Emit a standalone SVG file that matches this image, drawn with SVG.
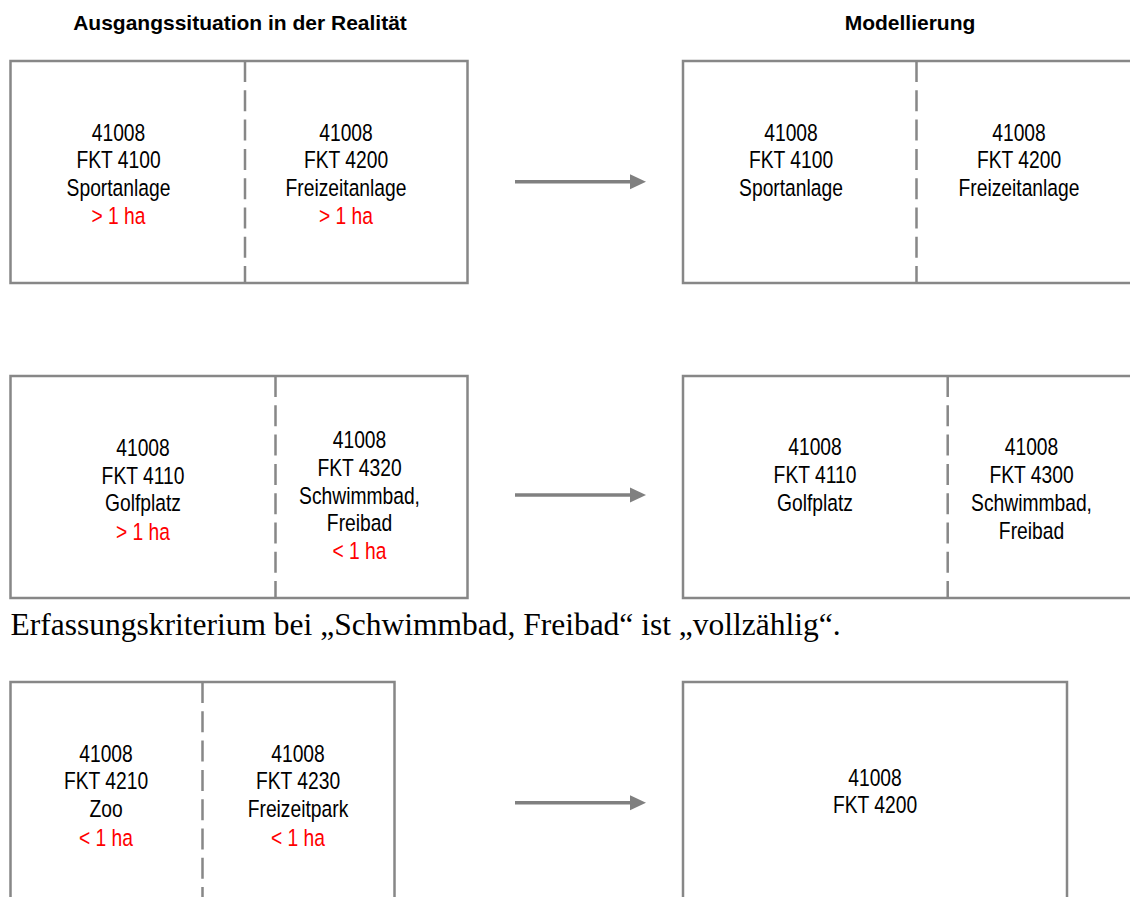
<svg xmlns="http://www.w3.org/2000/svg" width="1130" height="897" viewBox="0 0 1130 897">
  <defs>
    <style>
      .box { fill: #ffffff; stroke: #878787; stroke-width: 2.5; }
      .div { stroke: #878787; stroke-width: 2.5; stroke-dasharray: 21 8.3; fill: none; }
      .lbl { font-family: "Liberation Sans", Arial, sans-serif; font-size: 23.5px; text-anchor: middle; fill: #000000; }
      .red { fill: #ff0000; }
      .head { font-family: "Liberation Sans", Arial, sans-serif; font-weight: bold; font-size: 21px; text-anchor: middle; fill: #000000; }
      .note { font-family: "Liberation Serif", "Times New Roman", serif; font-size: 31.5px; fill: #000000; }
      .conn { stroke: #808080; stroke-width: 3.5; fill: none; }
      .tip { fill: #808080; }
    </style>
  </defs>
  <rect width="1130" height="897" fill="#ffffff"/>

  <!-- column headings -->
  <text class="head" x="240" y="30">Ausgangssituation in der Realität</text>
  <text class="head" x="910" y="30">Modellierung</text>

  <!-- labels use a narrowed sans face: each cell is centred at its x and squeezed horizontally -->

  <!-- row 1: real situation -->
  <g id="real-1">
    <rect class="box" x="10.5" y="61" width="457" height="222"/>
    <line class="div" x1="245" y1="61" x2="245" y2="283"/>
    <g id="real-1-sport" transform="translate(118.5 0) scale(0.82 1)">
      <text class="lbl" x="0" y="140.7">41008</text>
      <text class="lbl" x="0" y="168.5">FKT 4100</text>
      <text class="lbl" x="0" y="196.3">Sportanlage</text>
      <text class="lbl red" x="0" y="224.5">&gt; 1 ha</text>
    </g>
    <g id="real-1-freizeit" transform="translate(346 0) scale(0.82 1)">
      <text class="lbl" x="0" y="140.7">41008</text>
      <text class="lbl" x="0" y="168.5">FKT 4200</text>
      <text class="lbl" x="0" y="196.3">Freizeitanlage</text>
      <text class="lbl red" x="0" y="224.5">&gt; 1 ha</text>
    </g>
  </g>

  <!-- row 1: model -->
  <g id="model-1">
    <rect class="box" x="683" y="61" width="470" height="222"/>
    <line class="div" x1="916.5" y1="61" x2="916.5" y2="283"/>
    <g id="model-1-sport" transform="translate(791 0) scale(0.82 1)">
      <text class="lbl" x="0" y="140.7">41008</text>
      <text class="lbl" x="0" y="168.5">FKT 4100</text>
      <text class="lbl" x="0" y="196.3">Sportanlage</text>
    </g>
    <g id="model-1-freizeit" transform="translate(1019 0) scale(0.82 1)">
      <text class="lbl" x="0" y="140.7">41008</text>
      <text class="lbl" x="0" y="168.5">FKT 4200</text>
      <text class="lbl" x="0" y="196.3">Freizeitanlage</text>
    </g>
  </g>

  <!-- row 2: real situation -->
  <g id="real-2">
    <rect class="box" x="10.5" y="376" width="457" height="222"/>
    <line class="div" x1="275.5" y1="376" x2="275.5" y2="598"/>
    <g id="real-2-golf" transform="translate(143 0) scale(0.82 1)">
      <text class="lbl" x="0" y="455.7">41008</text>
      <text class="lbl" x="0" y="483.7">FKT 4110</text>
      <text class="lbl" x="0" y="511.5">Golfplatz</text>
      <text class="lbl red" x="0" y="539.7">&gt; 1 ha</text>
    </g>
    <g id="real-2-bad" transform="translate(359.5 0) scale(0.82 1)">
      <text class="lbl" x="0" y="448.3">41008</text>
      <text class="lbl" x="0" y="476">FKT 4320</text>
      <text class="lbl" x="0" y="503.6">Schwimmbad,</text>
      <text class="lbl" x="0" y="531.3">Freibad</text>
      <text class="lbl red" x="0" y="559">&lt; 1 ha</text>
    </g>
  </g>

  <!-- row 2: model -->
  <g id="model-2">
    <rect class="box" x="683" y="376" width="470" height="222"/>
    <line class="div" x1="947.7" y1="376" x2="947.7" y2="598"/>
    <g id="model-2-golf" transform="translate(815 0) scale(0.82 1)">
      <text class="lbl" x="0" y="455.5">41008</text>
      <text class="lbl" x="0" y="483.4">FKT 4110</text>
      <text class="lbl" x="0" y="511.2">Golfplatz</text>
    </g>
    <g id="model-2-bad" transform="translate(1031.5 0) scale(0.82 1)">
      <text class="lbl" x="0" y="455.5">41008</text>
      <text class="lbl" x="0" y="483.4">FKT 4300</text>
      <text class="lbl" x="0" y="511.2">Schwimmbad,</text>
      <text class="lbl" x="0" y="539">Freibad</text>
    </g>
  </g>

  <!-- remark between rows 2 and 3 -->
  <text class="note" x="10.5" y="635">Erfassungskriterium bei „Schwimmbad, Freibad“ ist „vollzählig“.</text>

  <!-- row 3: real situation -->
  <g id="real-3">
    <rect class="box" x="10.5" y="682" width="384" height="240"/>
    <line class="div" x1="202.5" y1="682" x2="202.5" y2="897"/>
    <g id="real-3-zoo" transform="translate(106 0) scale(0.82 1)">
      <text class="lbl" x="0" y="761.7">41008</text>
      <text class="lbl" x="0" y="789.5">FKT 4210</text>
      <text class="lbl" x="0" y="817.3">Zoo</text>
      <text class="lbl red" x="0" y="845.7">&lt; 1 ha</text>
    </g>
    <g id="real-3-park" transform="translate(298 0) scale(0.82 1)">
      <text class="lbl" x="0" y="761.7">41008</text>
      <text class="lbl" x="0" y="789.5">FKT 4230</text>
      <text class="lbl" x="0" y="817.3">Freizeitpark</text>
      <text class="lbl red" x="0" y="845.7">&lt; 1 ha</text>
    </g>
  </g>

  <!-- row 3: model -->
  <g id="model-3">
    <rect class="box" x="683" y="682" width="384" height="240"/>
    <g id="model-3-freizeit" transform="translate(875 0) scale(0.82 1)">
      <text class="lbl" x="0" y="785.7">41008</text>
      <text class="lbl" x="0" y="813.4">FKT 4200</text>
    </g>
  </g>

  <!-- transition arrows -->
  <g id="connectors">
    <line class="conn" x1="515" y1="181.7" x2="632" y2="181.7"/>
    <polygon class="tip" points="630,174.2 646,181.7 630,189.2"/>
    <line class="conn" x1="515" y1="495" x2="632" y2="495"/>
    <polygon class="tip" points="630,487.5 646,495 630,502.5"/>
    <line class="conn" x1="515" y1="802.7" x2="632" y2="802.7"/>
    <polygon class="tip" points="630,795.2 646,802.7 630,810.2"/>
  </g>
</svg>
